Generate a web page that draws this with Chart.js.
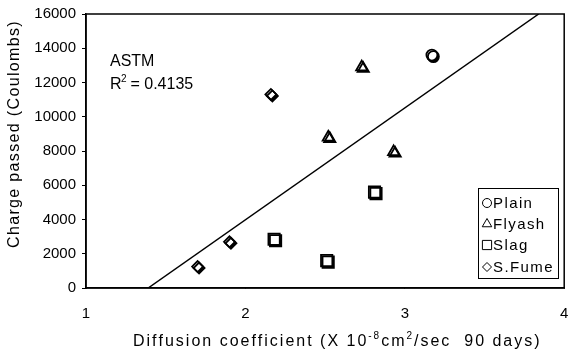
<!DOCTYPE html>
<html lang="en">
<head>
    <meta charset="UTF-8">
    <title>Charge passed vs diffusion coefficient</title>
    <script src="https://cdn.jsdelivr.net/npm/chart.js"></script>
    <style>
        body { margin: 0; background: #fff; }
        #box { width: 574px; height: 355px; }
    </style>
</head>
<body>
<div id="box"><canvas id="chart"></canvas></div>
<script>
    // dados
    const plainX = [3.17];
    const plainY = [13600];
    const flyashX = [2.73, 2.52, 2.93];
    const flyashY = [12900, 8800, 7950];
    const slagX = [2.81, 2.51, 2.18];
    const slagY = [5600, 1600, 2850];
    const fumeX = [2.16, 1.70, 1.90];
    const fumeY = [11300, 1250, 2700];
    const trendX = [1.39, 3.84];
    const trendY = [0, 16000];
    const xTicks = [1, 2, 3, 4];
    const yTicks = [0, 2000, 4000, 6000, 8000, 10000, 12000, 14000, 16000];

    const pares = (xs, ys) => xs.map((x, i) => ({ x: x, y: ys[i] }));
    const fonte = '"Liberation Sans", Arial, sans-serif';

    function serie(label, xs, ys, estilo, raio) {
        return {
            label: label,
            data: pares(xs, ys),
            pointStyle: estilo,
            pointRadius: raio,
            backgroundColor: '#fff',
            borderColor: '#000',
            borderWidth: 1.8,
            showLine: false
        };
    }

    // texto com espacamento ajustado a uma largura
    function textoLargo(c, partes, cx, cy, largura) {
        let natural = 0, n = 0;
        partes.forEach(p => { c.font = p.f; natural += c.measureText(p.t).width; n += p.t.length; });
        const esp = (largura - natural) / n;
        let x = cx - largura / 2;
        c.textBaseline = 'middle';
        c.textAlign = 'left';
        partes.forEach(p => {
            c.font = p.f;
            for (const ch of p.t) {
                c.fillText(ch, x, cy + (p.dy || 0));
                x += c.measureText(ch).width + esp;
            }
        });
    }

    // sombra preta nos marcadores
    const sombra = {
        id: 'sombra',
        beforeDatasetDraw(chart, args) {
            if (args.index > 3) return;
            const c = chart.ctx;
            c.save();
            c.shadowColor = '#000';
            c.shadowOffsetX = 1.5;
            c.shadowOffsetY = 1.5;
            c.shadowBlur = 0;
        },
        afterDatasetDraw(chart, args) {
            if (args.index > 3) return;
            chart.ctx.restore();
        }
    };

    // moldura, titulos, texto ASTM e legenda
    const extras = {
        id: 'extras',
        afterDraw(chart) {
            const c = chart.ctx, a = chart.chartArea;
            c.save();
            c.strokeStyle = '#000';
            c.lineWidth = 1.5;
            c.strokeRect(a.left, a.top, a.right - a.left, a.bottom - a.top);

            c.fillStyle = '#000';
            c.textBaseline = 'middle';
            c.font = '16px ' + fonte;
            c.fillText('ASTM', a.left + 24, 62);
            c.fillText('R', a.left + 24, 85);
            c.font = '10px ' + fonte;
            c.fillText('2', a.left + 35, 79);
            c.font = '16px ' + fonte;
            c.fillText(' = 0.4135', a.left + 40, 85);

            // titulo eixo x
            const f = '16px ' + fonte, fs = '10px ' + fonte;
            textoLargo(c, [
                { t: 'Diffusion coefficient (X 10', f: f },
                { t: '-8', f: fs, dy: -6 },
                { t: 'cm', f: f },
                { t: '2', f: fs, dy: -6 },
                { t: '/sec  90 days)', f: f }
            ], 337, 342, 408);

            // titulo eixo y
            c.save();
            c.translate(15, 134);
            c.rotate(-Math.PI / 2);
            textoLargo(c, [{ t: 'Charge passed (Coulombs)', f: f }], 0, 0, 228);
            c.restore();

            // legenda
            const lx = 478, ly = 188, lw = 80, lh = 90;
            c.fillStyle = '#fff';
            c.fillRect(lx, ly, lw, lh);
            c.lineWidth = 1;
            c.strokeRect(lx + 0.5, ly + 0.5, lw, lh);
            c.font = '15px ' + fonte;
            c.letterSpacing = '1.4px';
            c.textAlign = 'left';
            const linhas = [15, 36, 57, 79];
            chart.data.datasets.slice(0, 4).forEach((ds, i) => {
                const y = ly + linhas[i];
                c.fillStyle = '#fff';
                c.strokeStyle = '#000';
                Chart.helpers.drawPoint(c, {
                    pointStyle: ds.pointStyle,
                    radius: ds.pointStyle === 'rect' ? 6.5 : (ds.pointStyle === 'triangle' ? 5.5 : 4.5),
                    borderWidth: 1.4
                }, lx + 9, y);
                c.fillStyle = '#000';
                c.fillText(ds.label, lx + 15, y + 1);
            });
            c.restore();
        }
    };

    new Chart(document.getElementById('chart'), {
        type: 'scatter',
        data: {
            datasets: [
                serie('Plain', plainX, plainY, 'circle', 5.5),
                serie('Flyash', flyashX, flyashY, 'triangle', 6.5),
                serie('Slag', slagX, slagY, 'rect', 8),
                serie('S.Fume', fumeX, fumeY, 'rectRot', 5.5),
                {
                    type: 'line',
                    label: 'trend',
                    data: pares(trendX, trendY),
                    borderColor: '#000',
                    borderWidth: 1.5,
                    pointRadius: 0,
                    fill: false
                }
            ]
        },
        options: {
            responsive: true,
            maintainAspectRatio: false,
            animation: false,
            layout: { padding: { top: 14, right: 7, bottom: 0, left: 0 } },
            plugins: {
                legend: { display: false },
                tooltip: { enabled: false }
            },
            scales: {
                x: {
                    type: 'linear',
                    min: 1, max: 4,
                    afterBuildTicks: s => { s.ticks = xTicks.map(v => ({ value: v })); },
                    afterFit: s => { s.height = 67; s.paddingRight = 0; s.paddingLeft = 0; },
                    grid: { display: true, drawOnChartArea: false, tickLength: 0, color: '#000' },
                    border: { color: '#000', width: 1.5 },
                    ticks: { color: '#000', font: { family: fonte, size: 15 }, padding: 17 }
                },
                y: {
                    min: 0, max: 16000,
                    afterBuildTicks: s => { s.ticks = yTicks.map(v => ({ value: v })); },
                    afterFit: s => { s.width = 86; s.paddingTop = 0; s.paddingBottom = 0; },
                    grid: { display: true, drawOnChartArea: false, tickLength: 4, color: '#000' },
                    border: { color: '#000', width: 1.5 },
                    ticks: {
                        color: '#000',
                        font: { family: fonte, size: 15 },
                        padding: 6,
                        callback: v => String(v)
                    }
                }
            }
        },
        plugins: [sombra, extras]
    });
</script>
</body>
</html>
